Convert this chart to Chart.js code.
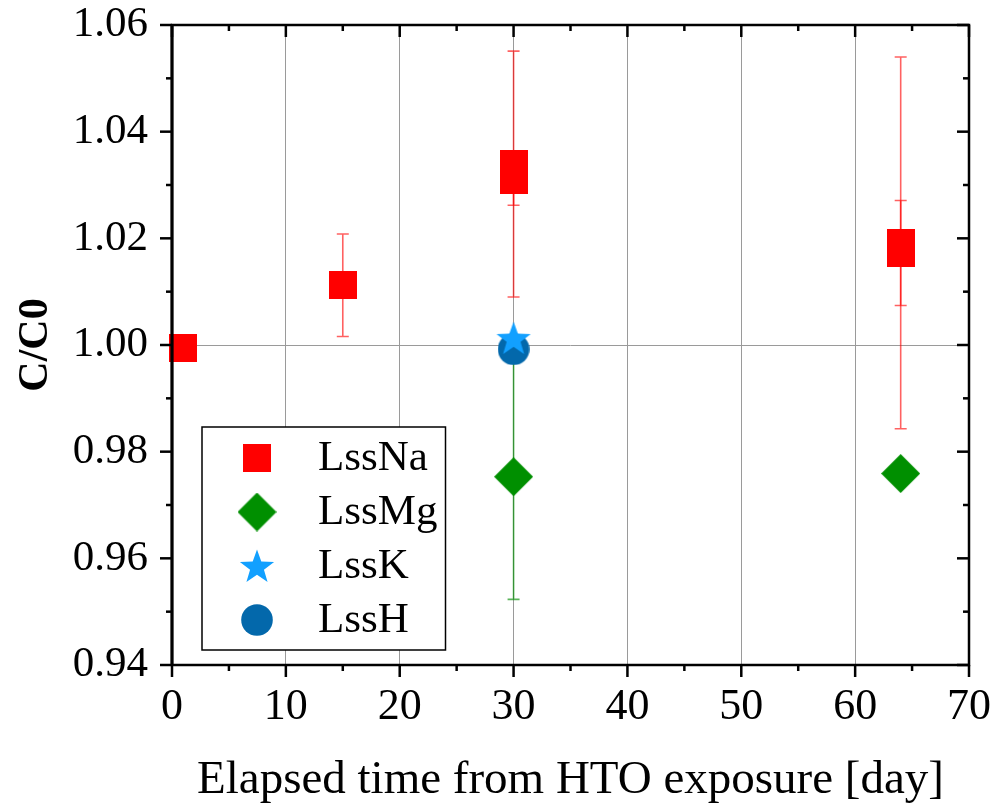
<!DOCTYPE html>
<html>
<head>
<meta charset="utf-8">
<script src="https://cdn.jsdelivr.net/npm/chart.js@4.4.1/dist/chart.umd.min.js"></script>
<style>
    html, body { margin: 0; padding: 0; background: #fff; }
    #wrap { width: 997px; height: 807px; }
</style>
</head>
<body>
<div id="wrap"><canvas id="myChart" width="997" height="807"></canvas></div>
<script>
// values
const xTicks = [0, 10, 20, 30, 40, 50, 60, 70];
const yTicks = [0.94, 0.96, 0.98, 1.00, 1.02, 1.04, 1.06];

const naDays = [1, 15, 30, 30, 64, 64];
const naRatio = [0.9995, 1.0112, 1.0340, 1.0310, 1.0192, 1.0173];
const naLow = [null, 1.0016, 1.0262, 1.0090, 0.9843, 1.0074];
const naHigh = [null, 1.0208, 1.0340, 1.0551, 1.0540, 1.0271];

const mgDays = [30, 64];
const mgRatio = [0.9753, 0.9759];
const mgLow = [0.9523, null];
const mgHigh = [0.9983, null];

const kDays = [30];
const kRatio = [1.0013];

const hDays = [30];
const hRatio = [0.9992];

const FONT = "'Liberation Serif', 'Times New Roman', serif";

function init() {
    const canvas = document.getElementById("myChart");

    // filled marker pictures, used by the chart and by the legend
    function makeMarker(size, color, draw) {
        const c = document.createElement("canvas");
        c.width = size;
        c.height = size;
        const g = c.getContext("2d");
        g.fillStyle = color;
        draw(g, size / 2);
        return c;
    }
    const square = makeMarker(28, "#ff0000", (g) => g.fillRect(0, 0, 28, 28));
    const diamond = makeMarker(39, "#008f00", (g, h) => {
        g.beginPath();
        g.moveTo(h, 0); g.lineTo(2 * h, h); g.lineTo(h, 2 * h); g.lineTo(0, h);
        g.closePath();
        g.fill();
    });
    const star = makeMarker(36, "#12a0ff", (g, h) => {
        g.beginPath();
        for (let i = 0; i < 10; i++) {
            const r = i % 2 === 0 ? 18 : 7.3;
            const a = -Math.PI / 2 + i * Math.PI / 5;
            const px = h + r * Math.cos(a);
            const py = h + 1.5 + r * Math.sin(a);
            if (i === 0) g.moveTo(px, py); else g.lineTo(px, py);
        }
        g.closePath();
        g.fill();
    });
    const circle = makeMarker(32, "#0368ab", (g, h) => {
        g.beginPath();
        g.arc(h, h, 15.8, 0, Math.PI * 2);
        g.fill();
    });

    const toPoints = (xs, ys) => xs.map((v, i) => ({ x: v, y: ys[i] }));

    const errorSets = [
        { days: naDays, ratio: naRatio, low: naLow, high: naHigh, color: "rgba(255, 0, 0, 0.62)" },
        { days: mgDays, ratio: mgRatio, low: mgLow, high: mgHigh, color: "rgba(0, 140, 0, 0.65)" }
    ];

    // error bars go under the markers
    const errorBars = {
        id: "errorBars",
        beforeDatasetsDraw(chart) {
            const { ctx, scales: { x, y } } = chart;
            ctx.save();
            ctx.lineWidth = 1.6;
            errorSets.forEach(set => {
                ctx.strokeStyle = set.color;
                set.days.forEach((d, i) => {
                    if (set.low[i] === null) return;
                    const px = x.getPixelForValue(d);
                    const top = y.getPixelForValue(set.high[i]);
                    const bottom = y.getPixelForValue(set.low[i]);
                    ctx.beginPath();
                    ctx.moveTo(px, top);
                    ctx.lineTo(px, bottom);
                    if (set.high[i] !== set.ratio[i]) {
                        ctx.moveTo(px - 6, top); ctx.lineTo(px + 6, top);
                    }
                    if (set.low[i] !== set.ratio[i]) {
                        ctx.moveTo(px - 6, bottom); ctx.lineTo(px + 6, bottom);
                    }
                    ctx.stroke();
                });
            });
            ctx.restore();
        }
    };

    // box around the plot with Origin style ticks
    const frame = {
        id: "frame",
        afterDatasetsDraw(chart) {
            const { ctx, chartArea: a, scales: { x, y } } = chart;
            ctx.save();
            ctx.strokeStyle = "#000";
            ctx.lineCap = "butt";
            const line = (x1, y1, x2, y2) => {
                ctx.beginPath(); ctx.moveTo(x1, y1); ctx.lineTo(x2, y2); ctx.stroke();
            };
            ctx.lineWidth = 2.5;
            ctx.strokeRect(a.left, a.top, a.right - a.left, a.bottom - a.top);
            ctx.lineWidth = 3;
            line(a.left, a.top - 1, a.left, a.bottom + 1);

            ctx.lineWidth = 2.5;
            for (let i = 0; i < xTicks.length * 2 - 1; i++) {
                const v = xTicks[0] + i * (xTicks[1] - xTicks[0]) / 2;
                const px = x.getPixelForValue(v);
                const len = i % 2 === 0 ? 12 : 6;
                line(px, a.bottom, px, a.bottom + len);
                line(px, a.top, px, a.top + len);
            }
            for (let i = 0; i < yTicks.length * 2 - 1; i++) {
                const v = yTicks[0] + i * (yTicks[1] - yTicks[0]) / 2;
                const py = y.getPixelForValue(v);
                const len = i % 2 === 0 ? 12 : 6;
                line(a.left - len, py, a.left, py);
                line(a.right - len, py, a.right, py);
            }
            ctx.restore();
        }
    };

    // legend box inside the plot, lower left
    const legendBox = {
        id: "legendBox",
        afterDraw(chart) {
            const { ctx } = chart;
            ctx.save();
            ctx.fillStyle = "#fff";
            ctx.fillRect(202, 427, 243.5, 223);
            ctx.strokeStyle = "#000";
            ctx.lineWidth = 1.5;
            ctx.strokeRect(202, 427, 243.5, 223);
            ctx.font = `43px ${FONT}`;
            ctx.fillStyle = "#000";
            ctx.textBaseline = "middle";
            chart.data.datasets.forEach((ds, i) => {
                const cy = 458 + i * 54;
                const img = ds.pointStyle;
                ctx.drawImage(img, 257 - img.width / 2, cy - img.height / 2);
                ctx.fillText(ds.label, 318, cy + 1);
            });
            ctx.restore();
        }
    };

    new Chart(canvas, {
        type: "scatter",
        data: {
            datasets: [
                { label: "LssNa", data: toPoints(naDays, naRatio), pointStyle: square, pointRadius: 14, clip: false },
                { label: "LssMg", data: toPoints(mgDays, mgRatio), pointStyle: diamond, pointRadius: 14, clip: false },
                { label: "LssK", data: toPoints(kDays, kRatio), pointStyle: star, pointRadius: 14, clip: false },
                { label: "LssH", data: toPoints(hDays, hRatio), pointStyle: circle, pointRadius: 14, clip: false }
            ]
        },
        options: {
            responsive: false,
            animation: false,
            devicePixelRatio: 1,
            layout: { padding: { top: 25, right: 28, left: 0, bottom: 0 } },
            plugins: {
                legend: { display: false },
                tooltip: { enabled: false }
            },
            scales: {
                x: {
                    type: "linear",
                    min: xTicks[0],
                    max: xTicks[xTicks.length - 1],
                    afterBuildTicks: (s) => { s.ticks = xTicks.map(v => ({ value: v })); },
                    afterFit: (s) => { s.height = 142; s.paddingLeft = 0; s.paddingRight = 0; },
                    border: { display: false },
                    grid: {
                        drawTicks: false,
                        lineWidth: 1,
                        color: (c) => (c.tick && c.tick.value > 0 && c.tick.value < 70) ? "#9a9a9a" : "rgba(0,0,0,0)"
                    },
                    ticks: {
                        color: "#000",
                        padding: 16,
                        maxRotation: 0,
                        autoSkip: false,
                        font: { family: FONT, size: 44, lineHeight: 1.2 },
                        callback: (v) => String(v)
                    },
                    title: {
                        display: true,
                        text: "Elapsed time from HTO exposure [day]",
                        color: "#000",
                        padding: 0,
                        font: { family: FONT, size: 47, lineHeight: 1.1 }
                    }
                },
                y: {
                    type: "linear",
                    min: yTicks[0],
                    max: yTicks[yTicks.length - 1],
                    afterBuildTicks: (s) => { s.ticks = yTicks.map(v => ({ value: v })); },
                    afterFit: (s) => { s.width = 172; s.paddingTop = 0; s.paddingBottom = 0; },
                    border: { display: false },
                    grid: {
                        drawTicks: false,
                        lineWidth: 1,
                        color: (c) => (c.tick && Math.abs(c.tick.value - 1) < 1e-6) ? "#9a9a9a" : "rgba(0,0,0,0)"
                    },
                    ticks: {
                        color: "#000",
                        padding: 24,
                        autoSkip: false,
                        font: { family: FONT, size: 43, lineHeight: 1.2 },
                        callback: (v) => Number(v).toFixed(2)
                    },
                    title: {
                        display: true,
                        text: "C/C0",
                        color: "#000",
                        padding: { top: 11, bottom: 0 },
                        font: { family: FONT, size: 42, weight: "bold", lineHeight: 1.2 }
                    }
                }
            }
        },
        plugins: [errorBars, frame, legendBox]
    });
}

document.addEventListener("DOMContentLoaded", init);
</script>
</body>
</html>
